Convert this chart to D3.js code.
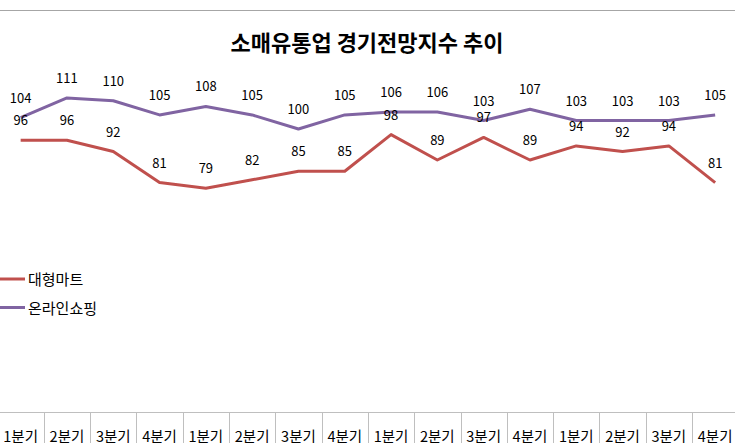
<!DOCTYPE html>
<html>
<head>
<meta charset="utf-8">
<script src="https://cdn.jsdelivr.net/npm/d3@7"></script>
<style>
  body { margin: 0; background: #fff; }
  svg { display: block; }
  text { font-family: "Malgun Gothic", "Noto Sans CJK KR", sans-serif; }
</style>
</head>
<body>
<svg id="chart" width="735" height="443"></svg>
<script>
const title = '소매유통업 경기전망지수 추이'
const quarters = ['1분기', '2분기', '3분기', '4분기', '1분기', '2분기', '3분기', '4분기',
  '1분기', '2분기', '3분기', '4분기', '1분기', '2분기', '3분기', '4분기']
const seriesNames = ['대형마트', '온라인쇼핑']
const martValues = [96, 96, 92, 81, 79, 82, 85, 85, 98, 89, 97, 89, 94, 92, 94, 81]
const onlineValues = [104, 111, 110, 105, 108, 105, 100, 105, 106, 106, 103, 107, 103, 103, 103, 105]
const colors = ['#c0504d', '#8064a2']

const svg = d3.select('#chart')
const width = 735
const height = 443

let series = [
  { name: seriesNames[0], values: martValues, color: colors[0] },
  { name: seriesNames[1], values: onlineValues, color: colors[1] }
]

let x = d3.scaleBand()
  .domain(quarters.map((q, i) => i))
  .range([-2.5, 738.3])

let y = d3.scaleLinear()
  .domain([0, 120])
  .range([411, 72.6])

// top border of the chart area
svg.append('line')
  .attr('x1', 0).attr('x2', width)
  .attr('y1', 10.5).attr('y2', 10.5)
  .attr('stroke', '#a6a6a6')
  .attr('stroke-width', 1)

svg.append('text')
  .attr('x', 367)
  .attr('y', 51)
  .attr('text-anchor', 'middle')
  .attr('font-size', 22)
  .attr('font-weight', 'bold')
  .attr('fill', '#000')
  .text(title)

// category axis
let axis = svg.append('g').attr('class', 'x-axis')
axis.append('line')
  .attr('x1', 0).attr('x2', width)
  .attr('y1', 412.5).attr('y2', 412.5)
  .attr('stroke', '#bfbfbf')
axis.selectAll('line.sep')
  .data(quarters.map((q, i) => i).slice(1))
  .enter().append('line')
  .attr('class', 'sep')
  .attr('x1', i => Math.round(x(i)) + 0.5)
  .attr('x2', i => Math.round(x(i)) + 0.5)
  .attr('y1', 412)
  .attr('y2', height)
  .attr('stroke', '#bfbfbf')
axis.selectAll('text')
  .data(quarters)
  .enter().append('text')
  .attr('x', (q, i) => x(i) + x.bandwidth() / 2)
  .attr('y', 442)
  .attr('text-anchor', 'middle')
  .attr('font-size', 14.5)
  .attr('fill', '#000')
  .text(q => q)

let line = d3.line()
  .x((v, i) => x(i) + x.bandwidth() / 2)
  .y(v => y(v))

let lines = svg.append('g').attr('class', 'lines')
lines.selectAll('path')
  .data(series)
  .enter().append('path')
  .attr('d', s => line(s.values))
  .attr('fill', 'none')
  .attr('stroke', s => s.color)
  .attr('stroke-width', 3)
  .attr('stroke-linejoin', 'round')

let labels = svg.append('g').attr('class', 'labels')
series.forEach(s => {
  labels.append('g').selectAll('text')
    .data(s.values)
    .enter().append('text')
    .attr('x', (v, i) => x(i) + x.bandwidth() / 2)
    .attr('y', v => y(v) - 15)
    .attr('text-anchor', 'middle')
    .attr('font-size', 13)
    .attr('fill', '#000')
    .text(v => v)
})

// legend on the left
let legend = svg.append('g').attr('class', 'legend')
series.forEach((s, i) => {
  let ly = 279 + i * 28.5
  legend.append('line')
    .attr('x1', -5).attr('x2', 25)
    .attr('y1', ly).attr('y2', ly)
    .attr('stroke', s.color)
    .attr('stroke-width', 3)
  legend.append('text')
    .attr('x', 28)
    .attr('y', ly + 6)
    .attr('font-size', 15)
    .attr('fill', '#000')
    .text(s.name)
})
</script>
</body>
</html>
